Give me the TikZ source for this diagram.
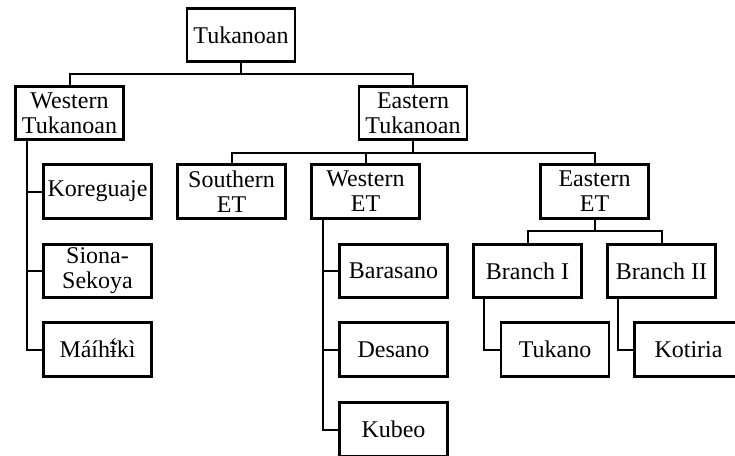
\documentclass[tikz,border=0pt]{standalone}
\usepackage{fontspec}
\setmainfont{Liberation Serif}
\usetikzlibrary{calc}
\newcommand{\ibartildegrave}{{\ooalign{ı\cr\hidewidth\rule[0.22em]{0.25em}{0.045em}\hidewidth\cr\hidewidth\raisebox{-0.04em}{\char"02DC}\hidewidth\cr\hidewidth\raisebox{0.13em}{\char"0060}\hidewidth\cr}}}
\tikzset{
  box/.style={draw, line width=2.6pt, rectangle, inner sep=0pt, minimum width=108pt, minimum height=53.5pt,
    align=center, font=\fontsize{24}{25}\selectfont},
  conn/.style={line width=2pt},
}
\begin{document}
\begin{tikzpicture}[x=1pt,y=-1pt]
\useasboundingbox (0,0) rectangle (735,455);
\clip (0,0) rectangle (735,455);
\node[box] (tuk) at (241,35) {Tukanoan};
\node[box] (wt) at (69.5,113) {Western\\Tukanoan};
\node[box] (et) at (413,113) {Eastern\\Tukanoan};
\node[box] (kor) at (97.5,191.5) {Koreguaje};
\node[box] (sio) at (97.5,271) {Siona-\\Sekoya};
\node[box] (mai) at (97.5,349.5) {Máíh\ibartildegrave kì};
\node[box] (set) at (231.5,191.5) {Southern\\ET};
\node[box] (wet) at (365.5,191.5) {Western\\ET};
\node[box] (eet) at (594.5,191.5) {Eastern\\ET};
\node[box] (bar) at (393.5,271) {Barasano};
\node[box] (des) at (393.5,349.5) {Desano};
\node[box] (kub) at (393.5,429.5) {Kubeo};
\node[box] (bi) at (527.5,271) {Branch I};
\node[box] (bii) at (661.5,271) {Branch II};
\node[box] (tko) at (555,349.5) {Tukano};
\node[box] (kot) at (688.5,349.5) {Kotiria};
% top level
\coordinate (bus1) at ($(tuk.south)+(0,11)$);
\draw[conn] (tuk.south) -- (bus1);
\draw[conn] (wt.north) |- (bus1) -| (et.north);
% eastern tukanoan
\coordinate (bus2) at ($(et.south)+(0,11.5)$);
\draw[conn] (et.south) -- (bus2);
\draw[conn] (set.north) |- (bus2) -| (eet.north);
\draw[conn] (wet.north) -- (wet.north |- bus2);
% eastern ET
\coordinate (bus3) at ($(eet.south)+(0,11.5)$);
\draw[conn] (eet.south) -- (bus3);
\draw[conn] (bi.north) |- (bus3) -| (bii.north);
% western tukanoan rake
\coordinate (wtx) at ($(wt.south west)+(12.5,0)$);
\draw[conn] (wtx) |- (mai.west);
\draw[conn] (kor.west) -- (kor.west -| wtx);
\draw[conn] (sio.west) -- (sio.west -| wtx);
% western ET rake
\coordinate (wetx) at ($(wet.south west)+(12.5,0)$);
\draw[conn] (wetx) |- (kub.west);
\draw[conn] (bar.west) -- (bar.west -| wetx);
\draw[conn] (des.west) -- (des.west -| wetx);
% branches
\coordinate (bix) at ($(bi.south west)+(11.5,0)$);
\draw[conn] (bix) |- (tko.west);
\coordinate (biix) at ($(bii.south west)+(11.5,0)$);
\draw[conn] (biix) |- (kot.west);
\end{tikzpicture}
\end{document}
